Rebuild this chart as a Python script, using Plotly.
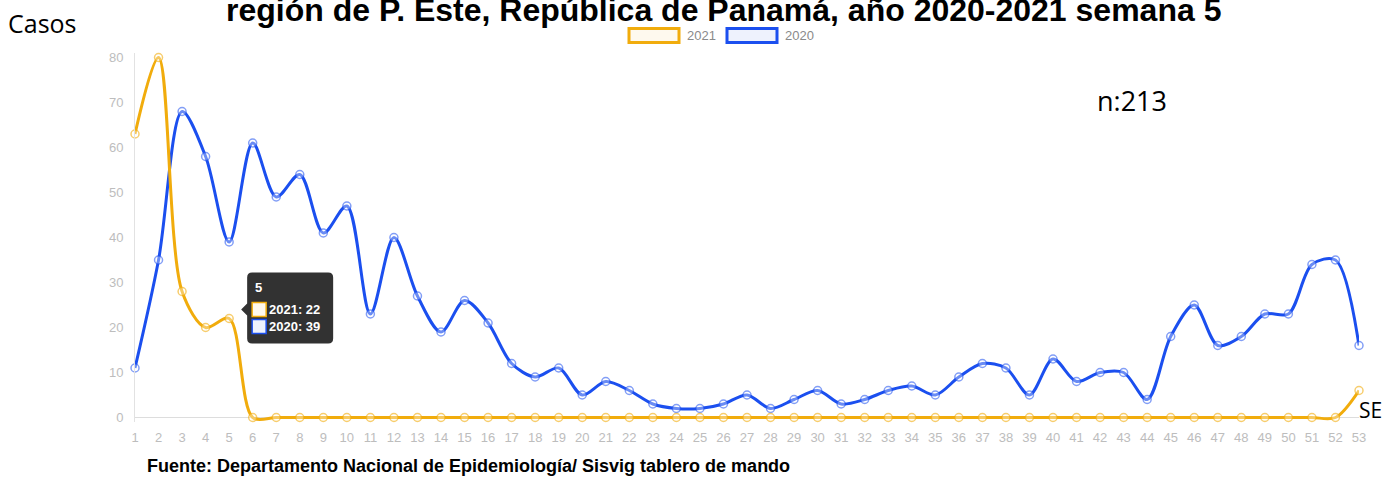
import plotly.graph_objects as go

# semanas epidemiológicas
semanas = list(range(1, 54))

casos_2021 = [63, 80, 28, 20, 22] + [0] * 47 + [6]
casos_2020 = [11, 35, 68, 58, 39, 61, 49, 54, 41, 47,
              23, 40, 27, 19, 26, 21, 12, 9, 11, 5,
              8, 6, 3, 2, 2, 3, 5, 2, 4, 6,
              3, 4, 6, 7, 5, 9, 12, 11, 5, 13,
              8, 10, 10, 4, 18, 25, 16, 18, 23, 23,
              34, 35, 16]

y_ticks = [0, 10, 20, 30, 40, 50, 60, 70, 80]
semana_tooltip = 5
total_n = 213

AMARILLO = "#F1AC0C"
AZUL = "#1B4FEF"

W, H = 1384, 480
L, R, T, B = 135, 25, 52.5, 57.5
PW, PH = W - L - R, H - T - B


def px(x):
    return (x - L) / PW


def py(y):
    return (H - B - y) / PH


fig = go.Figure()

fig.add_trace(go.Scatter(
    x=semanas, y=casos_2020, name="2020", mode="lines+markers",
    line=dict(color=AZUL, width=3, shape="spline", smoothing=0.9),
    marker=dict(size=8, color="rgba(255,255,255,0.35)",
                line=dict(color="rgba(27,79,239,0.55)", width=1.5)),
    cliponaxis=False, showlegend=False))

fig.add_trace(go.Scatter(
    x=semanas, y=casos_2021, name="2021", mode="lines+markers",
    line=dict(color=AMARILLO, width=3, shape="spline", smoothing=0.9),
    marker=dict(size=8, color="rgba(255,255,255,0.35)",
                line=dict(color="rgba(241,172,12,0.6)", width=1.5)),
    cliponaxis=False, showlegend=False))

shapes = []
annotations = []

# leyenda (recuadros)
for x0, col, fill, lab in [(629, AMARILLO, "#FEF9EE", "2021"), (727, AZUL, "#EEF2FD", "2020")]:
    shapes.append(dict(type="rect", xref="paper", yref="paper",
                       x0=px(x0), x1=px(x0 + 50), y0=py(42), y1=py(28),
                       line=dict(color=col, width=3), fillcolor=fill))
    annotations.append(dict(text=lab, xref="paper", yref="paper", x=px(x0 + 56), y=py(35),
                            xanchor="left", yanchor="middle", showarrow=False,
                            font=dict(size=13, color="#8a8a8a", family="Liberation Sans")))

# tooltip semana 5
i = semana_tooltip - 1
shapes.append(dict(type="path", xref="x", yref="y", xsizemode="pixel", ysizemode="pixel",
                   xanchor=semanas[i], yanchor=casos_2021[i],
                   path="M 23,46 L 99,46 Q 104,46 104,41 L 104,-20 Q 104,-25 99,-25 L 23,-25 "
                        "Q 18,-25 18,-20 L 18,3 L 12,9 L 18,15 L 18,41 Q 18,46 23,46 Z",
                   fillcolor="rgba(34,34,34,0.93)", line=dict(width=0)))
for y0, col, fill in [(2, AMARILLO, "#FEF9EE"), (-15, AZUL, "#EEF2FD")]:
    shapes.append(dict(type="rect", xref="x", yref="y", xsizemode="pixel", ysizemode="pixel",
                       xanchor=semanas[i], yanchor=casos_2021[i],
                       x0=23, x1=37, y0=y0, y1=y0 + 14,
                       line=dict(color=col, width=1.5), fillcolor=fill))
tip_font = dict(size=13, color="white", family="Liberation Sans")
annotations.append(dict(text=f"<b>{semanas[i]}</b>", x=semanas[i], y=casos_2021[i],
                        xshift=24, yshift=31, xanchor="left", yanchor="middle",
                        showarrow=False, font=tip_font))
annotations.append(dict(text=f"<b>2021: {casos_2021[i]}</b>", x=semanas[i], y=casos_2021[i],
                        xshift=38, yshift=9, xanchor="left", yanchor="middle",
                        showarrow=False, font=tip_font))
annotations.append(dict(text=f"<b>2020: {casos_2020[i]}</b>", x=semanas[i], y=casos_2021[i],
                        xshift=38, yshift=-8, xanchor="left", yanchor="middle",
                        showarrow=False, font=tip_font))

# textos
annotations += [
    dict(text="<b>región de P. Este, República de Panamá, año 2020-2021 semana 5</b>",
         xref="paper", yref="paper", x=px(723), y=py(9), xanchor="center", yanchor="middle",
         showarrow=False, font=dict(size=32, color="black", family="Liberation Sans")),
    dict(text="Casos", xref="paper", yref="paper", x=px(6), y=py(22),
         xanchor="left", yanchor="middle", showarrow=False,
         font=dict(size=25, color="black", family="Open Sans")),
    dict(text=f"n:{total_n}", xref="paper", yref="paper", x=px(1095), y=py(100),
         xanchor="left", yanchor="middle", showarrow=False,
         font=dict(size=27, color="black", family="Open Sans")),
    dict(text="SE", xref="paper", yref="paper", x=px(1357), y=py(410),
         xanchor="left", yanchor="middle", showarrow=False,
         font=dict(size=21, color="black", family="Open Sans")),
    dict(text="<b>Fuente: Departamento Nacional de Epidemiología/ Sisvig tablero de mando</b>",
         xref="paper", yref="paper", x=px(145), y=py(467),
         xanchor="left", yanchor="middle", showarrow=False,
         font=dict(size=18, color="black", family="Liberation Sans")),
]

fig.update_layout(
    width=W, height=H,
    margin=dict(l=L, r=R, t=T, b=B, pad=0),
    plot_bgcolor="white", paper_bgcolor="white",
    shapes=shapes, annotations=annotations,
    xaxis=dict(range=[1, 53], tickmode="array", tickvals=semanas,
               ticktext=[str(s) for s in semanas], showgrid=False, zeroline=False,
               showline=False, ticks="", ticklabelstandoff=6,
               tickfont=dict(size=13, color="#bdbdbd", family="Liberation Sans")),
    yaxis=dict(range=[-1, 81], tickmode="array", tickvals=y_ticks, showgrid=False,
               zeroline=True, zerolinecolor="#dddddd", zerolinewidth=1,
               showline=True, linecolor="#e2e2e2", linewidth=1, ticks="",
               ticklabelstandoff=8,
               tickfont=dict(size=13, color="#bdbdbd", family="Liberation Sans")),
    hovermode=False,
)

fig.write_html("out.html", config={"displayModeBar": False},
               post_script="document.body.style.margin='0';document.body.style.overflow='hidden';")
